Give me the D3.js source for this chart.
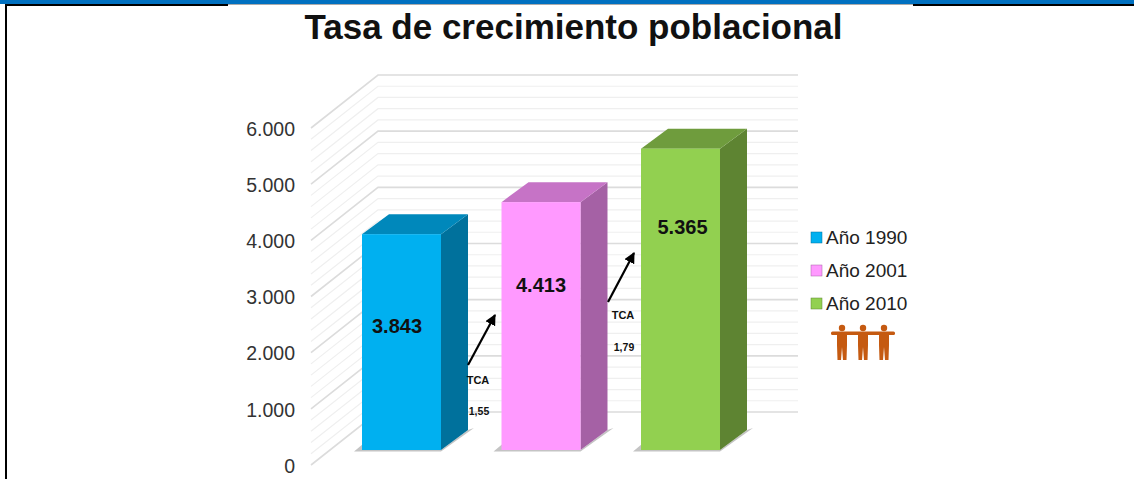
<!DOCTYPE html>
<html>
<head>
<meta charset="utf-8">
<script src="https://cdn.jsdelivr.net/npm/d3@7"></script>
<style>
  html, body { margin: 0; padding: 0; background: #fff; overflow: hidden; }
  svg { display: block; font-family: "Liberation Sans", Arial, sans-serif; }
</style>
</head>
<body>
<svg width="1134" height="479"></svg>
<script>
// chart values
const categories = ["Año 1990", "Año 2001", "Año 2010"];
const values = [3843, 4413, 5365];
const valueLabels = ["3.843", "4.413", "5.365"];
const axisTicks = [0, 1000, 2000, 3000, 4000, 5000, 6000];
const gridTicks = d3.range(0, 6001, 200);
const growthLabels = ["1,55", "1,79"];

const frontColors = ["#00b0f0", "#ff99ff", "#92d050"];
const topColors = ["#0088bb", "#c673c6", "#6f9c3d"];
const sideColors = ["#00719c", "#a561a5", "#5e8432"];

const svg = d3.select("svg");

// page frame
svg.append("rect").attr("x", 0).attr("y", 0).attr("width", 1134).attr("height", 4).attr("fill", "#0070c0");
svg.append("rect").attr("x", 5).attr("y", 4).attr("width", 223).attr("height", 2).attr("fill", "#000");
svg.append("rect").attr("x", 228).attr("y", 4).attr("width", 685).attr("height", 1).attr("fill", "#aaa");
svg.append("rect").attr("x", 913).attr("y", 4).attr("width", 221).attr("height", 2).attr("fill", "#000");
svg.append("rect").attr("x", 5).attr("y", 4).attr("width", 2).attr("height", 475).attr("fill", "#000");

svg.append("text")
  .attr("x", 573.5).attr("y", 39)
  .attr("text-anchor", "middle")
  .attr("font-size", 35).attr("font-weight", "bold")
  .attr("fill", "#111")
  .text("Tasa de crecimiento poblacional");

// scales, the y one is for the front plane of the bars
const yScale = d3.scaleLinear().domain([0, 6000]).range([450, 113]);
const xScale = d3.scaleBand().domain(categories).range([362, 720]).paddingInner(0.4337).paddingOuter(0);
const barW = xScale.bandwidth();
const depthX = 27, depthY = 20; // bar depth
const wallLeft = 311, wallBack = 378, wallRight = 798;
const frontOff = 15, backOff = -38; // wall offset from the bar plane

// grid on the side wall and the back wall
const grid = svg.append("g").attr("fill", "none");
grid.selectAll("path").data(gridTicks).enter().append("path")
  .attr("d", (d) => {
    const y = yScale(d);
    return `M${wallLeft},${y + frontOff}L${wallBack},${y + backOff}L${wallRight},${y + backOff}`;
  })
  .attr("stroke", (d) => (d % 1000 === 0 ? "#dcdcdc" : "#efefef"))
  .attr("stroke-width", (d) => (d % 1000 === 0 ? 1.6 : 1.2));

// y axis labels
const yAxis = d3.axisLeft(yScale)
  .tickValues(axisTicks)
  .tickSize(0)
  .tickFormat((d) => (d === 0 ? "0" : d3.format(".3f")(d / 1000)));
const yAxisG = svg.append("g")
  .attr("transform", `translate(295,${frontOff + 1})`)
  .call(yAxis);
yAxisG.select(".domain").remove();
yAxisG.selectAll("text")
  .attr("x", 0).attr("font-size", 19.5)
  .attr("font-family", '"Liberation Sans", Arial, sans-serif')
  .attr("fill", "#333");

// bars
const bars = svg.selectAll("g.bar").data(values).enter().append("g").attr("class", "bar");
const barX = (i) => xScale(categories[i]);

// soft shadow on the floor
bars.append("path")
  .attr("d", (d, i) => `M${barX(i) - 8},451.5L${barX(i) + 1},444L${barX(i) + barW},450L${barX(i) + barW + 27},430L${barX(i) + barW + 33},428L${barX(i) + barW},451.5Z`)
  .attr("fill", (d, i) => "#c4c4c4");
bars.append("path")
  .attr("d", (d, i) => {
    const x = barX(i) + barW, y = yScale(d);
    return `M${x},${y}L${x + depthX},${y - depthY}L${x + depthX},${yScale(0) - depthY}L${x},${yScale(0)}Z`;
  })
  .attr("fill", (d, i) => sideColors[i]);
bars.append("path")
  .attr("d", (d, i) => {
    const x = barX(i), y = yScale(d);
    return `M${x},${y}L${x + depthX},${y - depthY}L${x + barW + depthX},${y - depthY}L${x + barW},${y}Z`;
  })
  .attr("fill", (d, i) => topColors[i]);
bars.append("rect")
  .attr("x", (d, i) => barX(i))
  .attr("y", (d) => yScale(d))
  .attr("width", barW)
  .attr("height", (d) => yScale(0) - yScale(d))
  .attr("fill", (d, i) => frontColors[i]);

// value labels, they sit at different spots in each bar
const labelY = [333, 292, 234];
const labelDx = [-4.5, 0, 2];
svg.selectAll("text.value").data(valueLabels).enter().append("text")
  .attr("class", "value")
  .attr("x", (d, i) => barX(i) + barW / 2 + labelDx[i])
  .attr("y", (d, i) => labelY[i])
  .attr("text-anchor", "middle")
  .attr("font-size", 20).attr("font-weight", "bold")
  .attr("fill", "#111")
  .text((d) => d);

// growth arrows between the bars
const defs = svg.append("defs");
defs.append("marker")
  .attr("id", "arrow")
  .attr("viewBox", "0 0 10 10").attr("refX", 9).attr("refY", 5)
  .attr("markerWidth", 5).attr("markerHeight", 5)
  .attr("orient", "auto")
  .append("path").attr("d", "M0,0L10,5L0,10Z").attr("fill", "#000");

const arrows = [
  { x1: 468, y1: 365, x2: 495, y2: 315, tx: 478, ty1: 384, ty2: 415 },
  { x1: 608, y1: 302, x2: 634, y2: 253, tx: 623, ty1: 319, ty2: 351 }
];
arrows.forEach((a, i) => {
  svg.append("line")
    .attr("x1", a.x1).attr("y1", a.y1).attr("x2", a.x2).attr("y2", a.y2)
    .attr("stroke", "#000").attr("stroke-width", 2.2)
    .attr("marker-end", "url(#arrow)");
  svg.append("text").attr("x", a.tx).attr("y", a.ty1).attr("text-anchor", "middle")
    .attr("font-size", 11).attr("font-weight", "bold").attr("fill", "#111").text("TCA");
  svg.append("text").attr("x", a.tx + 1).attr("y", a.ty2).attr("text-anchor", "middle")
    .attr("font-size", 10.5).attr("font-weight", "bold").attr("fill", "#111").text(growthLabels[i]);
});

// legend
const legendY = d3.scalePoint().domain(categories).range([237, 303]);
const legend = svg.selectAll("g.legend").data(categories).enter().append("g")
  .attr("class", "legend")
  .attr("transform", (d) => `translate(811,${legendY(d)})`);
legend.append("rect")
  .attr("x", 0).attr("y", -5).attr("width", 11).attr("height", 11)
  .attr("fill", (d, i) => frontColors[i])
  .attr("stroke", (d, i) => sideColors[i]).attr("stroke-width", 0.5);
legend.append("text")
  .attr("x", 15).attr("y", 6.5)
  .attr("font-size", 19).attr("fill", "#222")
  .text((d) => d);

// little people icon under the legend
const people = svg.append("g").attr("fill", "#c55a11");
[842, 863, 884].forEach((x) => {
  people.append("circle").attr("cx", x).attr("cy", 328).attr("r", 3.2);
  people.append("path").attr("d", `M${x - 5},333H${x + 5}L${x + 5},345L${x + 4.5},360H${x + 1}L${x},347L${x - 1},360H${x - 4.5}L${x - 5},345Z`);
});
people.append("rect").attr("x", 831).attr("y", 331.5).attr("width", 64).attr("height", 3.5).attr("rx", 1.5);
</script>
</body>
</html>
